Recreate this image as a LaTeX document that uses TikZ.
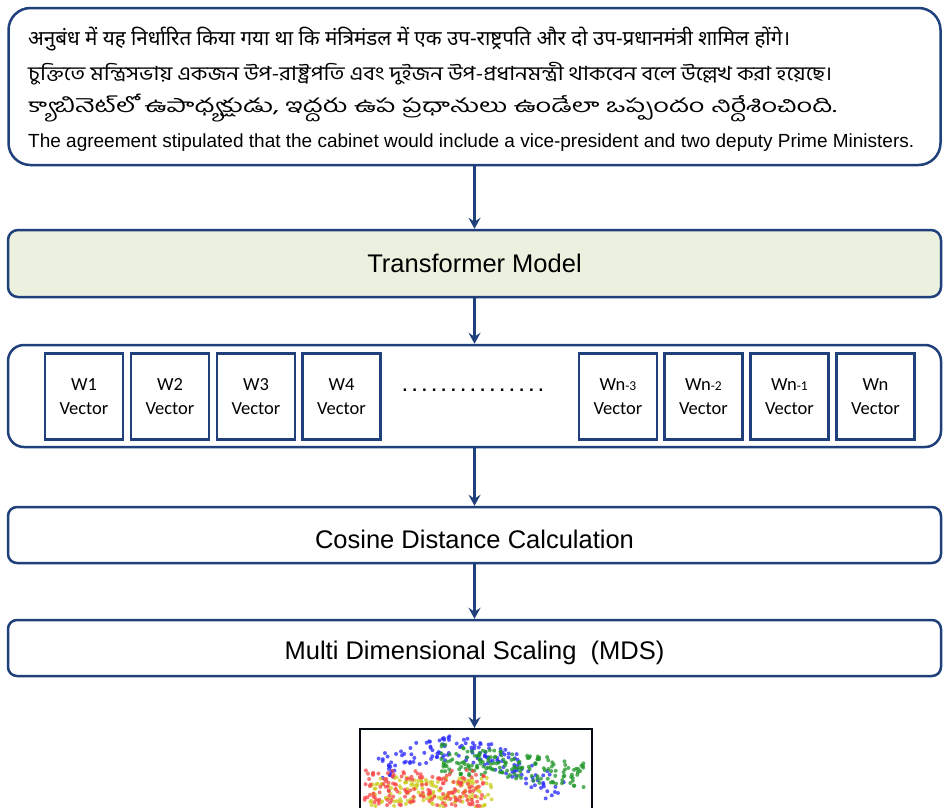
\documentclass[tikz,border=0pt]{standalone}
\usepackage{fontspec}
\setmainfont{Liberation Sans}
\newfontfamily\hindifont[Script=Devanagari]{Noto Sans}
\newfontfamily\bengalifont[Script=Bengali,FakeStretch=1.15]{Hind Siliguri}
\newfontfamily\telugufont[Script=Telugu,FakeStretch=1.43]{Hind Guntur}
\newfontfamily\carlito{Carlito}
\usetikzlibrary{arrows.meta}
\definecolor{navy}{RGB}{31,64,122}
\definecolor{tmfill}{RGB}{235,241,222}
\definecolor{ptblue}{RGB}{40,40,255}
\definecolor{ptgreen}{RGB}{30,150,40}
\definecolor{ptred}{RGB}{250,70,70}
\definecolor{ptyellow}{RGB}{205,205,30}
\tikzset{
  box/.style={draw=navy, line width=2.5pt, rounded corners=9pt, fill=white, inner sep=0pt, minimum width=933pt},
  vecbox/.style={draw=navy, line width=2.8pt, minimum width=78pt, minimum height=86pt, inner sep=0pt, align=center, font=\carlito\fontsize{18.5}{24}\selectfont},
  flow/.style={draw=navy, line width=2.5pt, -{Stealth[length=11pt,width=12pt,inset=4pt]}},
  lbl/.style={inner sep=0pt, font=\fontsize{25.5}{28}\selectfont},
  srctext/.style={anchor=base west, inner sep=0pt},
  dotpt/.style={opacity=0.75}
}
\newcommand{\smsub}[1]{{\fontsize{13.5}{14}\selectfont #1}}
\begin{document}
\begin{tikzpicture}[x=1pt,y=-1pt]
\path[use as bounding box, clip] (0,0) rectangle (945,807);
\fill[white] (0,0) rectangle (945,807);

% input box
\node[box, rounded corners=22pt, minimum width=932pt, minimum height=157pt] (inp) at (474.5,86.5) {};
\node[srctext, font=\hindifont\fontsize{20.6}{22}\selectfont] (hi) at (28,45) {अनुबंध में यह निर्धारित किया गया था कि मंत्रिमंडल में एक उप-राष्ट्रपति और दो उप-प्रधानमंत्री शामिल होंगे।};
\node[srctext, font=\bengalifont\fontsize{19.5}{22}\selectfont] (bn) at (28,80) {চুক্তিতে মন্ত্রিসভায় একজন উপ-রাষ্ট্রপতি এবং দুইজন উপ-প্রধানমন্ত্রী থাকবেন বলে উল্লেখ করা হয়েছে।};
\node[srctext, font=\telugufont\fontsize{19}{22}\selectfont] (te) at (28,112) {క్యాబినెట్‌లో ఉపాధ్యక్షుడు, ఇద్దరు ఉప ప్రధానులు ఉండేలా ఒప్పందం నిర్దేశించింది.};
\node[srctext, font=\fontsize{19}{20}\selectfont] (en) at (28,147) {The agreement stipulated that the cabinet would include a vice-president and two deputy Prime Ministers.};

% transformer
\node[box, fill=tmfill, rounded corners=10pt, minimum height=67pt] (tm) at (474.5,263.5) {};
\node[lbl] (tmt) at (tm.center) {Transformer Model};

% vectors
\node[box, rounded corners=16pt, minimum height=102pt] (vec) at (474.5,396) {};
\node[vecbox] (w1) at (84,396.5) {W1\\Vector};
\node[vecbox] (w2) at (170,396.5) {W2\\Vector};
\node[vecbox] (w3) at (256,396.5) {W3\\Vector};
\node[vecbox] (w4) at (341.5,396.5) {W4\\Vector};
\node[inner sep=0pt, font=\bfseries\fontsize{17}{20}\selectfont] (dots) at (473,390) {.\hspace{5pt}.\hspace{5pt}.\hspace{5pt}.\hspace{5pt}.\hspace{5pt}.\hspace{5pt}.\hspace{5pt}.\hspace{5pt}.\hspace{5pt}.\hspace{5pt}.\hspace{5pt}.\hspace{5pt}.\hspace{5pt}.\hspace{5pt}.};
\node[vecbox] (wn3) at (618,396.5) {Wn\smsub{-3}\\Vector};
\node[vecbox] (wn2) at (703.5,396.5) {Wn\smsub{-2}\\Vector};
\node[vecbox] (wn1) at (789.5,396.5) {Wn\smsub{-1}\\Vector};
\node[vecbox] (wn) at (875.5,396.5) {Wn\\Vector};

% cosine
\node[box, minimum height=56pt] (cos) at (474.5,535) {};
\node[lbl] (cost) at ([yshift=-4pt]cos.center) {Cosine Distance Calculation};
% MDS
\node[box, minimum height=56pt] (mds) at (474.5,648) {};
\node[lbl] (mdst) at ([yshift=-5pt]mds.center) {Multi Dimensional Scaling\ \ (MDS)};

% plot
\node[draw=black!85!navy, line width=2pt, fill=white, minimum width=232pt, minimum height=102pt, inner sep=0pt] (plot) at (475.5,780) {};
\begin{scope}
\clip (plot.north west) rectangle (plot.south east);
\pgfmathsetseed{11}
\foreach \i in {1,...,150}{
  \pgfmathsetmacro\t{rnd}
  \pgfmathsetmacro\px{383+175*\t+8*rand}
  \pgfmathsetmacro\py{768-25*sin(180*\t)+25*\t*\t+12*rand}
  \fill[ptblue, dotpt] (\px,\py) circle (2pt);
}
\foreach \i in {1,...,170}{
  \pgfmathsetmacro\px{440+145*rnd}
  \pgfmathsetmacro\py{758+0.12*(\px-440)+14*rand}
  \fill[ptgreen, dotpt] (\px,\py) circle (2pt);
}
\foreach \i in {1,...,150}{
  \pgfmathsetmacro\px{368+125*rnd}
  \pgfmathsetmacro\py{792+15*rand}
  \fill[ptyellow, dotpt] (\px,\py) circle (2pt);
}
\foreach \i in {1,...,160}{
  \pgfmathsetmacro\px{364+120*rnd}
  \pgfmathsetmacro\py{788+18*rand}
  \fill[ptred, dotpt] (\px,\py) circle (2pt);
}
\end{scope}

% connectors
\draw[flow] (inp.south) -- (tm.north);
\draw[flow] (tm.south) -- (vec.north);
\draw[flow] (vec.south) -- (cos.north);
\draw[flow] (cos.south) -- (mds.north);
\draw[flow] (mds.south) -- (mds.south |- plot.north);
\end{tikzpicture}
\end{document}
